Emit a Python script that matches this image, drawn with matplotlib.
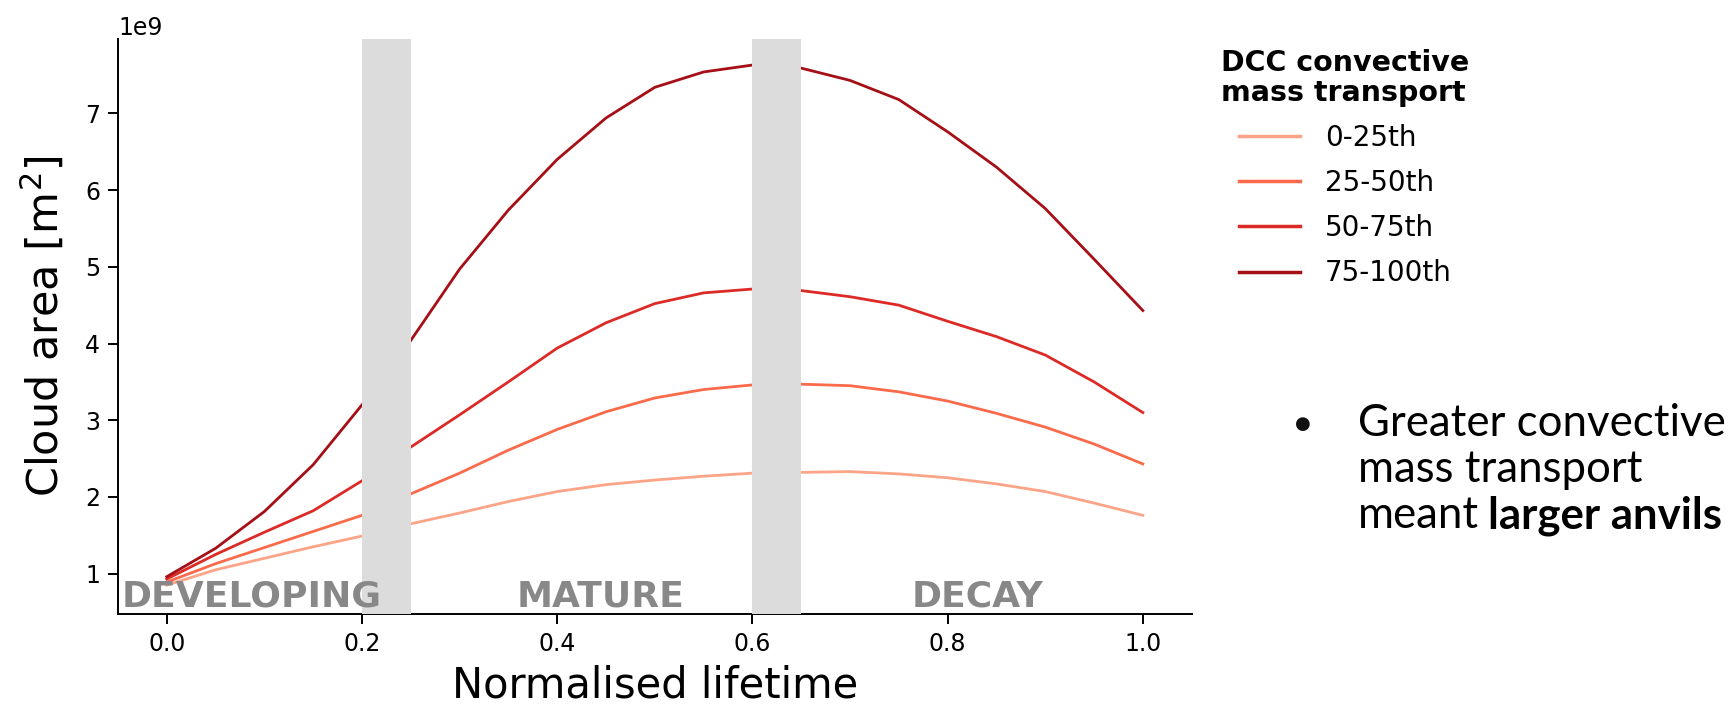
import numpy as np
import matplotlib.pyplot as plt
import matplotlib.transforms as mtransforms

# -- data (cloud area in units of 1e9 m^2) --
lifetime = np.round(np.arange(0, 1.0001, 0.05), 2)

area_0_25 = np.array([0.85, 1.05, 1.20, 1.35, 1.49, 1.65, 1.79, 1.94, 2.07, 2.16, 2.22,
                      2.27, 2.31, 2.32, 2.33, 2.30, 2.25, 2.17, 2.07, 1.92, 1.76])
area_25_50 = np.array([0.89, 1.13, 1.34, 1.55, 1.76, 2.04, 2.31, 2.61, 2.88, 3.11, 3.29,
                       3.40, 3.46, 3.47, 3.45, 3.37, 3.25, 3.09, 2.91, 2.69, 2.43])
area_50_75 = np.array([0.93, 1.25, 1.54, 1.82, 2.21, 2.65, 3.07, 3.50, 3.94, 4.27, 4.52,
                       4.66, 4.71, 4.69, 4.61, 4.50, 4.29, 4.09, 3.85, 3.50, 3.10])
area_75_100 = np.array([0.96, 1.33, 1.81, 2.42, 3.20, 4.04, 4.97, 5.74, 6.40, 6.94, 7.34,
                        7.54, 7.63, 7.59, 7.43, 7.18, 6.76, 6.30, 5.76, 5.10, 4.43])

series = [area_0_25, area_25_50, area_50_75, area_75_100]
labels = ['0-25th', '25-50th', '50-75th', '75-100th']
colors = ['#fca487', '#fb6a4a', '#dc2a26', '#a50f15']

# transition bands and phase names
bands = [(0.20, 0.25), (0.60, 0.65)]
phase_names = ['DEVELOPING', 'MATURE', 'DECAY']
phase_x = [0.087, 0.444, 0.831]

# -- plot --
fig = plt.figure(figsize=(17.3, 7.06), dpi=100)
ax = fig.add_axes([0.0682, 0.1299, 0.6206, 0.8149])

for vals, lab, col in zip(series, labels, colors):
    ax.plot(lifetime, vals * 1e9, color=col, lw=2.0, label=lab, zorder=2)

for b0, b1 in bands:
    ax.axvspan(b0, b1, color='#dcdcdc', lw=0, zorder=3)

trans = mtransforms.blended_transform_factory(ax.transData, ax.transAxes)
for name, xc in zip(phase_names, phase_x):
    ax.text(xc, 0.013, name, transform=trans, ha='center', va='baseline',
            fontsize=26, fontweight='bold', color='#888888', zorder=4)

ax.set_ylim(0.47e9, 7.97e9)
ax.set_xticks([0.0, 0.2, 0.4, 0.6, 0.8, 1.0])
ax.set_yticks(np.arange(1, 8) * 1e9)
ax.spines['top'].set_visible(False)
ax.spines['right'].set_visible(False)
for s in ['left', 'bottom']:
    ax.spines[s].set_linewidth(1.4)
ax.tick_params(labelsize=17, length=7, width=1.4, pad=6)
ax.yaxis.get_offset_text().set_fontsize(17)

ax.set_xlabel('Normalised lifetime', fontsize=30, labelpad=6)
ax.set_ylabel(r'Cloud area [m$^2$]', fontsize=31, labelpad=12)

leg = ax.legend(title='DCC convective\nmass transport', loc='upper left',
                bbox_to_anchor=(0.706, 0.93), bbox_transform=fig.transFigure,
                frameon=False, fontsize=20, handlelength=2.2, handletextpad=0.9,
                labelspacing=0.62, borderpad=0, borderaxespad=0,
                title_fontproperties={'weight': 'bold', 'size': 20.5})
leg.get_title().set_linespacing(1.05)
for line in leg.get_lines():
    line.set_linewidth(2.5)

# -- annotation on the right --
fig.text(0.753, 0.40, '\u25cf', fontsize=13, ha='center', va='center', color='#111111')
fig.text(0.785, 0.383, 'Greater convective', fontsize=31.5, family='Lato', va='baseline')
fig.text(0.785, 0.317, 'mass transport', fontsize=31.5, family='Lato', va='baseline')
t3 = fig.text(0.785, 0.252, 'meant', fontsize=31.5, family='Lato', va='baseline')
fig.add_artist(plt.Annotation('larger anvils', xy=(1, 0), xycoords=t3,
                              xytext=(6, 0), textcoords='offset points',
                              va='bottom', ha='left', fontsize=31.5,
                              family='Lato', fontweight='bold'))

fig.savefig('out.png', dpi=100)
